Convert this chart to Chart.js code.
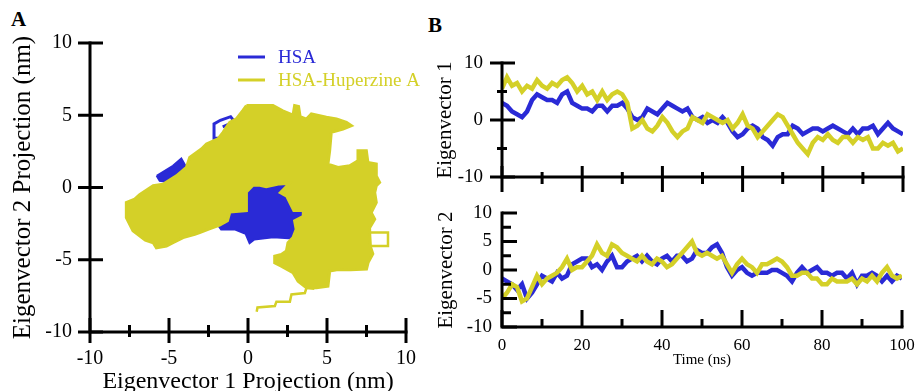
<!DOCTYPE html>
<html>
<head>
<meta charset="utf-8">
<script src="https://cdn.jsdelivr.net/npm/chart.js@4.4.1/dist/chart.umd.min.js"></script>
<style>
  html, body { margin: 0; padding: 0; background: #fff; width: 916px; height: 391px; overflow: hidden; }
  .panel { position: absolute; }
  .tag { position: absolute; font-family: "Liberation Serif", serif; font-weight: bold; font-size: 21px; line-height: 1; color: #000; }
</style>
</head>
<body>
<div class="tag" style="left:11px; top:9px;">A</div>
<div class="tag" style="left:428px; top:15px;">B</div>
<canvas id="cA" class="panel" width="440" height="391" style="left:0; top:0;"></canvas>
<canvas id="cB1" class="panel" width="496" height="195" style="left:420px; top:0;"></canvas>
<canvas id="cB2" class="panel" width="496" height="196" style="left:420px; top:195px;"></canvas>
<script>
var BLUE = "rgb(42,42,214)";
var YELLOW = "rgb(212,208,40)";
var SERIF = "'Liberation Serif', 'Times New Roman', serif";

// ---- panel A: projection on eigenvectors 1/2 (nm), outlines
var hsaCore = [[-0.3,0.2],[0.3,0.3],[0.75,0.3],[1.15,0.2],[2.0,0.4],[2.8,0.45],[2.6,-0.35],[2.6,-0.9],
  [3.0,-1.1],[3.0,-1.5],[3.55,-1.55],[3.6,-2.1],[3.1,-2.3],[3.2,-2.9],[3.0,-3.55],[1.6,-3.45],
  [0.4,-3.6],[0.1,-3.85],[-0.15,-3.2],[-0.85,-2.9],[-1.7,-2.9],[-1.9,-2.6],[-1.35,-2.2],
  [-1.25,-1.6],[-0.3,-1.5],[-0.3,0.2]];
var hsaLeft = [[-5.78,0.81],[-4.75,1.5],[-4.22,2.0],[-3.9,1.39],[-4.53,0.3],[-5.59,0.46],[-5.78,0.81]];
var hsaTop = [[-1.7,3.4],[-2.15,3.4],[-2.15,4.4],[-1.75,4.65],[-1.1,4.9],[-0.85,4.55],[-1.6,4.2]];
var huzMain = [[-0.1,5.67],[1.58,5.67],[2.2,5.3],[2.85,5.0],[2.95,5.67],[3.2,5.6],[3.3,4.9],[3.7,4.73],
  [4.01,5.09],[4.96,4.86],[5.6,4.75],[6.23,4.51],[6.54,4.28],[6.01,4.05],[5.27,3.82],[5.17,2.55],
  [5.06,1.62],[5.7,1.39],[6.44,1.5],[6.96,1.85],[6.96,2.55],[7.49,2.55],[7.59,1.74],[8.12,1.62],
  [8.12,0.81],[8.33,0.35],[8.12,0.12],[8.02,-0.35],[8.12,-1.04],[7.8,-1.74],[8.02,-2.2],[7.7,-2.78],
  [7.7,-3.1],[7.75,-4.1],[7.9,-4.6],[7.6,-5.2],[7.5,-5.65],[6.5,-5.7],[5.7,-5.67],[5.17,-5.78],
  [5.06,-6.83],[4.33,-6.94],[3.7,-6.94],[3.17,-6.48],[2.85,-5.9],[2.11,-5.44],[1.69,-5.21],
  [1.69,-4.75],[2.11,-4.63],[2.43,-4.4],[2.53,-3.82],[2.85,-3.47],[3.05,-2.9],[2.95,-2.3],
  [3.5,-2.0],[3.5,-1.6],[2.9,-1.6],[2.65,-1.05],[2.45,-0.6],[2.05,-0.35],[2.65,0.3],[2.0,0.25],
  [1.15,0.05],[0.75,0.15],[0.3,0.15],[-0.1,-0.3],[-0.1,-1.6],[-1.15,-1.7],[-1.3,-2.3],[-1.8,-2.6],
  [-2.53,-2.89],[-3.06,-3.12],[-3.37,-3.24],[-4.11,-3.47],[-4.75,-3.82],[-5.16,-4.05],[-5.8,-4.17],
  [-6.0,-3.82],[-6.5,-3.65],[-7.28,-3.0],[-7.7,-2.08],[-7.7,-1.04],[-7.17,-0.81],[-6.86,-0.5],
  [-6.0,0.12],[-5.38,0.23],[-4.53,0.81],[-3.9,1.39],[-3.69,2.08],[-2.95,2.66],[-2.63,3.01],
  [-1.9,3.36],[-1.58,3.82],[-1.16,4.51],[-0.74,4.75],[-0.32,5.33],[-0.1,5.67]];
var huzTail = [[4.2,-7.0],[3.7,-6.94],[3.6,-7.3],[2.75,-7.4],[2.65,-7.9],[1.8,-7.9],[1.7,-8.2],[0.6,-8.3],[0.55,-8.6]];
var huzLoop = [[7.75,-3.12],[8.86,-3.12],[8.86,-4.05],[7.75,-4.05]];

// ---- panel B: time series
var timeNs = [0,1.25,2.5,3.75,5,6.25,7.5,8.75,10,11.25,12.5,13.75,15,16.25,17.5,18.75,20,21.25,22.5,23.75,
  25,26.25,27.5,28.75,30,31.25,32.5,33.75,35,36.25,37.5,38.75,40,41.25,42.5,43.75,45,46.25,47.5,48.75,
  50,51.25,52.5,53.75,55,56.25,57.5,58.75,60,61.25,62.5,63.75,65,66.25,67.5,68.75,70,71.25,72.5,73.75,
  75,76.25,77.5,78.75,80,81.25,82.5,83.75,85,86.25,87.5,88.75,90,91.25,92.5,93.75,95,96.25,97.5,98.75,100];
var ev1Hsa = [3,2.5,1.5,1,0.5,1.5,3.5,4.5,4,3.5,
  3.5,3,4.5,5,3,2.5,2,2,1.5,2.5,
  2.5,1.5,2.5,2.5,3,2,0.5,0,0.5,2,
  1.5,1,2,3,2.5,2,1.5,2,0.5,0,
  0.5,-0.5,0,-0.5,0.5,-0.5,-2,-3,-2.5,-1.5,
  -1,-1.5,-3,-3.5,-4.5,-3,-2.5,-2.5,-1,-1.5,
  -2.5,-2,-1.5,-1.5,-2,-1.5,-1,-1.5,-2,-2.5,
  -1.5,-2.5,-1.5,-1.5,-1,-2.5,-1.5,-0.5,-1.5,-2,
  -2.5];
var ev1Huz = [5.5,7.5,6,6.5,5,6,5.5,7,6,5.5,
  6.5,6,7,7.5,6.5,5,6,4.5,5,3.5,
  5,3.5,4.5,5,4.5,3,-1.5,-1,0,-1.5,
  -2,-1,0.5,-0.5,-2,-3,-2,-1.5,0.5,0,
  -0.5,1,0.5,0,-0.5,0,-1.5,-0.5,1,-1,
  -1.5,-3,-2,-1,0,1,0.5,-1,-2.5,-4,
  -5,-6,-4,-3,-3.5,-2.5,-3.5,-4,-3,-3,
  -4,-3,-3.5,-3,-5,-5,-4,-4.5,-4,-5.5,
  -5];
var ev2Hsa = [-1.5,-2,-2.5,-3.5,-2.5,-5,-4,-2.5,-1,-1.5,
  -2,-0.5,-1.5,-1,1,1.5,2,2,0.5,1,
  0,1.5,2.5,0.5,0.5,1.5,2,2.5,1.5,2.5,
  1.5,1,2,2.5,1.5,2.5,2.5,1.5,2,3.5,
  3,3,4,4.5,3,0.5,-1,0,0.5,-0.5,
  -1,-0.5,-0.5,-0.5,0,0,-0.5,-1,-2,-0.5,
  0.5,-0.5,0,0.5,-0.5,-0.5,-1,-0.5,-0.5,-1.5,
  -0.5,-2.5,-1,-1,-0.5,-1,-2,-1,-2,-1,
  -1.5];
var ev2Huz = [-5,-4,-2.5,-3,-5.5,-5,-3,-1,-2.5,-1.5,
  -1,-0.5,0.5,2,0,0.5,0.5,1.5,2.5,4.5,
  3,2.5,4.5,4,3,2.5,2,1.5,2.5,1.5,
  1,2,1.5,0.5,1,2,3,4,5,3,
  2.5,3,2.5,2,2.5,1,-0.5,1,2,1,
  0.5,-0.5,1,1,1.5,2,1.5,0.5,-1,-1,
  -0.5,-0.5,-1.5,-1.5,-2.5,-2.5,-1.5,-2,-2,-2,
  -1.5,-2.5,-1.5,-2,-1,-2,-0.5,0.5,-1,-1.5,
  -1];

var legendNames = ["HSA", "HSA-Huperzine A"];

function pts(pairs) {
    return pairs.map(function (p) { return { x: p[0], y: p[1] }; });
}
function series(vals) {
    return vals.map(function (v, i) { return { x: timeNs[i], y: v }; });
}
// force the axis box size so the plot area lands where it is in the figure
function boxSize(size) {
    return function (scale) {
        if (scale.isHorizontal()) {
            scale.height = size;
            scale.paddingLeft = 0; scale.paddingRight = 0;
        } else {
            scale.width = size;
            scale.paddingTop = 0; scale.paddingBottom = 0;
        }
    };
}

// axis lines + tick marks that cross the axis, as in the original figure
var axisMarks = {
    id: "axisMarks",
    afterDraw: function (chart, args, o) {
        var ctx = chart.ctx, xs = chart.scales.x, ys = chart.scales.y;
        var ax = xs.left, ay = ys.bottom;
        ctx.save();
        ctx.strokeStyle = "#000";
        ctx.lineWidth = 3;
        ctx.lineCap = "butt";
        ctx.beginPath();
        ctx.moveTo(ax, ys.top - 1.5);
        ctx.lineTo(ax, ay);
        ctx.lineTo(xs.right + 1.5, ay);
        ctx.stroke();
        function hx(vals, len) {
            vals.forEach(function (v) {
                var px = xs.getPixelForValue(v);
                ctx.beginPath(); ctx.moveTo(px, ay - len[0]); ctx.lineTo(px, ay + len[1]); ctx.stroke();
            });
        }
        function vy(vals, len) {
            vals.forEach(function (v) {
                var py = ys.getPixelForValue(v);
                ctx.beginPath(); ctx.moveTo(ax - len[0], py); ctx.lineTo(ax + len[1], py); ctx.stroke();
            });
        }
        hx(o.xMajor, o.xMajorLen);
        hx(o.xMinor, o.xMinorLen);
        vy(o.yMajor, o.yMajorLen);
        vy(o.yMinor, o.yMinorLen);
        ctx.restore();
    }
};

var lineLegend = {
    id: "lineLegend",
    afterDraw: function (chart, args, o) {
        var ctx = chart.ctx;
        ctx.save();
        ctx.font = "19px " + SERIF;
        ctx.textBaseline = "middle";
        o.items.forEach(function (it, i) {
            var y = o.y + i * o.gap;
            ctx.strokeStyle = it.color;
            ctx.lineWidth = 3;
            ctx.beginPath(); ctx.moveTo(o.x, y); ctx.lineTo(o.x + 27, y); ctx.stroke();
            ctx.fillStyle = it.color;
            ctx.fillText(it.text, o.x + 40, y + 1);
        });
        ctx.restore();
    }
};

function tickFont(size) { return { family: SERIF, size: size, lineHeight: 1 }; }

// ---- panel A
new Chart(document.getElementById("cA"), {
    type: "line",
    data: {
        datasets: [
            { data: pts(huzMain), borderColor: YELLOW, backgroundColor: YELLOW, borderWidth: 3, fill: "shape", order: 0 },
            { data: pts(huzTail), borderColor: YELLOW, borderWidth: 2.5, fill: false, order: 0 },
            { data: pts(huzLoop), borderColor: YELLOW, borderWidth: 2.5, fill: false, order: 0 },
            { data: pts(hsaCore), borderColor: BLUE, backgroundColor: BLUE, borderWidth: 2, fill: "shape", order: 1 },
            { data: pts(hsaLeft), borderColor: BLUE, backgroundColor: BLUE, borderWidth: 2, fill: "shape", order: 1 },
            { data: pts(hsaTop), borderColor: BLUE, borderWidth: 3, fill: false, order: 1 }
        ]
    },
    options: {
        responsive: false, animation: false, events: [],
        elements: { point: { radius: 0 }, line: { tension: 0, borderJoinStyle: "miter" } },
        layout: { padding: { top: 43, right: 34, bottom: 0, left: 0 } },
        plugins: {
            legend: { display: false }, tooltip: { enabled: false },
            axisMarks: {
                xMajor: [-10, -5, 0, 5, 10], xMajorLen: [14, 11],
                xMinor: [-7.5, -2.5, 2.5, 7.5], xMinorLen: [7, 5],
                yMajor: [-10, -5, 0, 5, 10], yMajorLen: [12, 13],
                yMinor: [], yMinorLen: [0, 0]
            },
            lineLegend: {
                x: 238, y: 57, gap: 23,
                items: [{ text: legendNames[0], color: BLUE }, { text: legendNames[1], color: YELLOW }]
            }
        },
        scales: {
            x: {
                type: "linear", min: -10, max: 10, afterFit: boxSize(59),
                grid: { display: false, drawTicks: false }, border: { display: false },
                ticks: { stepSize: 5, font: tickFont(20), color: "#000", padding: 17, maxRotation: 0, autoSkip: false },
                title: { display: true, text: "Eigenvector 1 Projection (nm)", color: "#000",
                    font: { family: SERIF, size: 24, lineHeight: 1 }, padding: { top: 0, bottom: -3 } }
            },
            y: {
                type: "linear", min: -10, max: 10, afterFit: boxSize(90),
                grid: { display: false, drawTicks: false }, border: { display: false },
                ticks: { stepSize: 5, font: tickFont(20), color: "#000", padding: 18 },
                title: { display: true, text: "Eigenvector 2 Projection (nm)", color: "#000",
                    font: { family: SERIF, size: 25, lineHeight: 1 }, padding: { top: 11, bottom: 0 } }
            }
        }
    },
    plugins: [axisMarks, lineLegend]
});

function timeChart(id, huz, hsa, cfg) {
    return new Chart(document.getElementById(id), {
        type: "line",
        data: {
            datasets: [
                { data: series(huz), borderColor: YELLOW, borderWidth: 4.5, fill: false, order: 0 },
                { data: series(hsa), borderColor: BLUE, borderWidth: 4.5, fill: false, order: 1 }
            ]
        },
        options: {
            responsive: false, animation: false, events: [],
            elements: { point: { radius: 0 }, line: { tension: 0, borderJoinStyle: "miter" } },
            layout: { padding: cfg.padding },
            plugins: { legend: { display: false }, tooltip: { enabled: false }, axisMarks: cfg.marks },
            scales: {
                x: {
                    type: "linear", min: 0, max: 100, afterFit: boxSize(cfg.xHeight),
                    grid: { display: false, drawTicks: false }, border: { display: false },
                    ticks: { display: cfg.xLabels, stepSize: 20, font: tickFont(17), color: "#000", padding: 10, maxRotation: 0 },
                    title: { display: cfg.xLabels, text: "Time (ns)", color: "#000",
                        font: { family: SERIF, size: 15, lineHeight: 1 }, padding: { top: 0, bottom: 23 } }
                },
                y: {
                    type: "linear", min: -10, max: 10, afterFit: boxSize(82),
                    grid: { display: false, drawTicks: false }, border: { display: false },
                    ticks: { stepSize: cfg.yStep, font: tickFont(19), color: "#000", padding: cfg.yPad },
                    title: { display: true, text: cfg.yTitle, color: "#000",
                        font: { family: SERIF, size: 21, lineHeight: 1 }, padding: { top: cfg.yTitlePad, bottom: 0 } }
                }
            }
        },
        plugins: [axisMarks]
    });
}

timeChart("cB1", ev1Huz, ev1Hsa, {
    padding: { top: 63, right: 13, bottom: 0, left: 0 },
    xHeight: 18, xLabels: false, yStep: 10, yPad: 19, yTitle: "Eigenvector 1", yTitlePad: 15,
    marks: {
        xMajor: [0, 20, 40, 60, 80, 100], xMajorLen: [11, 15],
        xMinor: [10, 30, 50, 70, 90], xMinorLen: [5, 7],
        yMajor: [-10, 0, 10], yMajorLen: [12, 13],
        yMinor: [-5, 5], yMinorLen: [5, 5]
    }
});

timeChart("cB2", ev2Huz, ev2Hsa, {
    padding: { top: 18, right: 14, bottom: 0, left: 0 },
    xHeight: 64, xLabels: true, yStep: 5, yPad: 10, yTitle: "Eigenvector 2", yTitlePad: 16,
    marks: {
        xMajor: [0, 20, 40, 60, 80, 100], xMajorLen: [17, 0],
        xMinor: [10, 30, 50, 70, 90], xMinorLen: [8, 0],
        yMajor: [-10, -5, 0, 5, 10], yMajorLen: [0, 15],
        yMinor: [-7.5, -2.5, 2.5, 7.5], yMinorLen: [0, 9]
    }
});
</script>
</body>
</html>
